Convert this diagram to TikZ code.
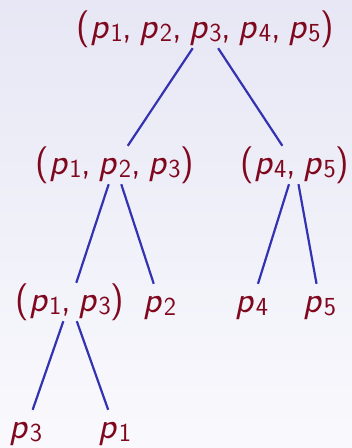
\documentclass[tikz,border=0pt]{standalone}
\definecolor{txtred}{RGB}{128,8,30}
\definecolor{edgeblue}{RGB}{51,51,178}
\definecolor{bgtop}{RGB}{231,231,245}
\definecolor{bgbot}{RGB}{249,249,253}
\newcommand\pp[1]{\textit{p}\kern0.8pt\raisebox{-3.5pt}{\fontsize{26}{30}\selectfont #1}}
\newcommand\cm{,\hspace{7.5pt}}
\tikzset{
  lbl/.style={font=\fontsize{37}{42}\sffamily, text=txtred, inner sep=1pt,
    text height=27pt, text depth=9pt, anchor=base},
  edge/.style={draw=edgeblue, line width=2.2pt}
}
\begin{document}
\begin{tikzpicture}[x=1pt,y=-1pt]
\useasboundingbox (0,0) rectangle (352,448);
\shade[top color=bgtop, bottom color=bgbot] (0,0) rectangle (352,448);
\node[lbl] (root) at (205.5,38) {(\pp1\cm\pp2\cm\pp3\cm\pp4\cm\pp5)};
\node[lbl] (l) at (115,174) {(\pp1\cm\pp2\cm\pp3)};
\node[lbl] (r) at (295,174) {(\pp4\cm\pp5)};
\node[lbl] (ll) at (70,311) {(\pp1\cm\pp3)};
\node[lbl] (lr) at (160,312) {\pp2};
\node[lbl] (rl) at (252,312) {\pp4};
\node[lbl] (rr) at (320,312) {\pp5};
\node[lbl] (lll) at (26,438) {\pp3};
\node[lbl] (llr) at (115,438) {\pp1};
\draw[edge] (root) -- (l);
\draw[edge] (root) -- (r);
\draw[edge] (l) -- (ll);
\draw[edge] (l) -- (lr);
\draw[edge] (r) -- (rl);
\draw[edge] (r) -- (rr);
\draw[edge] (ll) -- (lll);
\draw[edge] (ll) -- (llr);
\end{tikzpicture}
\end{document}
